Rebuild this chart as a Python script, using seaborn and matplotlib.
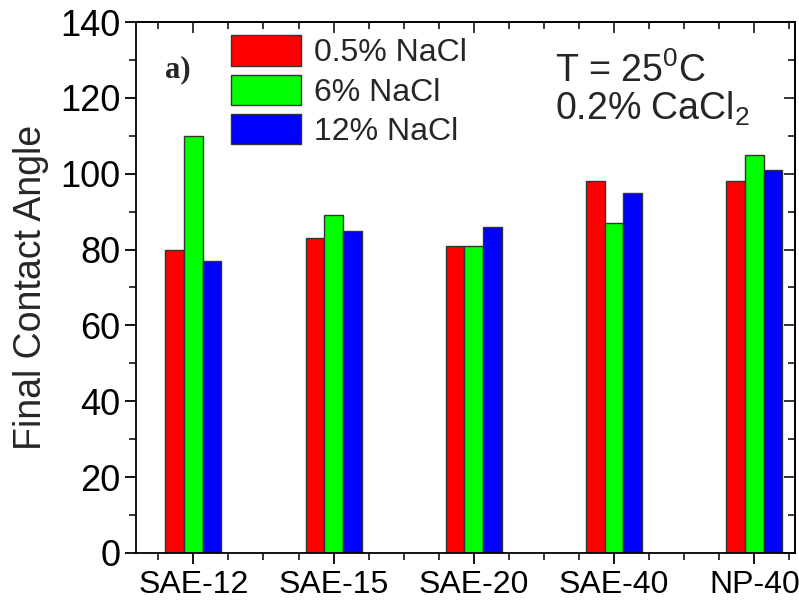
import matplotlib
matplotlib.use("Agg")
import matplotlib.pyplot as plt
import seaborn as sns
import pandas as pd
from matplotlib.ticker import MultipleLocator
from matplotlib.patches import Patch

categories = ["SAE-12", "SAE-15", "SAE-20", "SAE-40", "NP-40"]
series_names = ["0.5% NaCl", "6% NaCl", "12% NaCl"]
nacl_05 = [80, 83, 81, 98, 98]
nacl_6 = [110, 89, 81, 87, 105]
nacl_12 = [77, 85, 86, 95, 101]
colors = ["#ff0000", "#00ff00", "#0000ff"]

rows = []
for name, vals in zip(series_names, [nacl_05, nacl_6, nacl_12]):
    for c, v in zip(categories, vals):
        rows.append({"cat": c, "series": name, "val": v})
df = pd.DataFrame(rows)

sns.set_style("white")
plt.rcParams["font.family"] = ["Liberation Sans", "DejaVu Sans"]
plt.rcParams["mathtext.fontset"] = "custom"
plt.rcParams["mathtext.rm"] = "Liberation Sans"
plt.rcParams["mathtext.it"] = "Liberation Sans"

fig = plt.figure(figsize=(7.99, 6.03), dpi=100)
ax = fig.add_axes([0.170, 0.083, 0.825, 0.8805])
sns.barplot(data=df, x="cat", y="val", hue="series", order=categories,
            hue_order=series_names, palette=colors, width=0.4, gap=0,
            edgecolor="#333333", linewidth=1.0, saturation=1, ax=ax, legend=False)

ax.set_xlim(-0.41, 4.29)
ax.set_ylim(0, 140)
ax.set_xlabel("")
ax.set_ylabel("Final Contact Angle", fontsize=27, labelpad=8)
ax.yaxis.set_major_locator(MultipleLocator(20))
ax.yaxis.set_minor_locator(MultipleLocator(10))
ax.xaxis.set_minor_locator(MultipleLocator(0.25))
for s in ax.spines.values():
    s.set_visible(True)
    s.set_color("black")
    s.set_linewidth(1.3)
ax.tick_params(axis="both", which="major", direction="out", length=8, width=1.3,
               labelsize=26, colors="black", bottom=True, left=True, pad=3)
ax.tick_params(axis="both", which="minor", direction="out", length=5, width=1.3,
               bottom=True, left=True)
ax.tick_params(axis="x", which="major", labelsize=23, pad=4)

sx = ax.secondary_xaxis("top")
sx.xaxis.set_major_locator(MultipleLocator(1.0))
sx.xaxis.set_minor_locator(MultipleLocator(0.25))
sx.tick_params(which="major", direction="in", length=8, width=1.3, labeltop=False)
sx.tick_params(which="minor", direction="in", length=5, width=1.3)
sx.spines["top"].set_linewidth(1.3)
sy = ax.secondary_yaxis("right")
sy.yaxis.set_major_locator(MultipleLocator(20))
sy.yaxis.set_minor_locator(MultipleLocator(10))
sy.tick_params(which="major", direction="in", length=8, width=1.3, labelright=False)
sy.tick_params(which="minor", direction="in", length=5, width=1.3)
sy.spines["right"].set_linewidth(1.3)

handles = [Patch(facecolor=c, edgecolor="#333333", linewidth=1.0) for c in colors]
ax.legend(handles, series_names, loc="upper left", bbox_to_anchor=(0.144, 0.975),
          frameon=False, fontsize=23, handlelength=2.2, handleheight=1.08,
          labelspacing=0.2, handletextpad=0.4, borderaxespad=0, borderpad=0)

ax.text(0.044, 0.91, "a)", transform=ax.transAxes, fontsize=22, fontweight="bold",
        family=["Liberation Serif"], ha="left", va="center")
ax.text(0.636, 0.908, "T = 25$^0$C", transform=ax.transAxes, fontsize=27,
        ha="left", va="center")
ax.text(0.636, 0.836, "0.2% CaCl$_2$", transform=ax.transAxes, fontsize=27,
        ha="left", va="center")

fig.savefig("out.png", dpi=100)
